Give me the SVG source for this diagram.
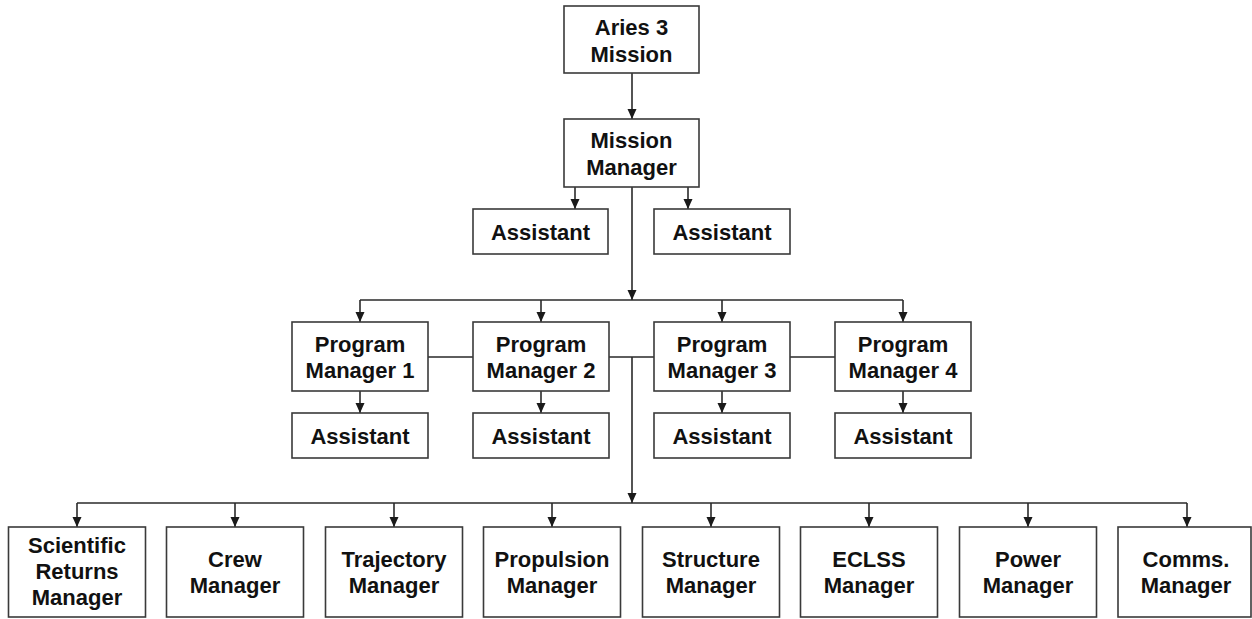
<svg xmlns="http://www.w3.org/2000/svg" width="1252" height="619" viewBox="0 0 1252 619">
  <style>
    .box { fill: #ffffff; stroke: #3a3a3a; stroke-width: 1.6; }
    .lbl { font-family: "Liberation Sans", Arial, sans-serif; font-weight: bold; font-size: 22px; fill: #111111; text-anchor: middle; }
    .wire { fill: none; stroke: #2a2a2a; stroke-width: 1.6; }
    .arr { marker-end: url(#head); }
  </style>
  <defs>
    <marker id="head" markerUnits="userSpaceOnUse" markerWidth="10" markerHeight="11" refX="10" refY="5" orient="auto">
      <path d="M0,0.5 L10,5 L0,9.5 z" fill="#1a1a1a"/>
    </marker>
  </defs>
  <rect width="1252" height="619" fill="#ffffff"/>

  <!-- connectors -->
  <g id="connectors">
    <path class="wire arr" d="M632,73 V119"/>
    <path class="wire arr" d="M575,187 V209"/>
    <path class="wire arr" d="M688,187 V209"/>
    <path class="wire arr" d="M632,187 V300"/>
    <path class="wire" d="M360,300 H903"/>
    <path class="wire arr" d="M360,300 V322"/>
    <path class="wire arr" d="M541,300 V322"/>
    <path class="wire arr" d="M722,300 V322"/>
    <path class="wire arr" d="M903,300 V322"/>
    <path class="wire" d="M428,357 H473 M609,357 H654 M790,357 H835"/>
    <path class="wire arr" d="M360,391 V413"/>
    <path class="wire arr" d="M541,391 V413"/>
    <path class="wire arr" d="M722,391 V413"/>
    <path class="wire arr" d="M903,391 V413"/>
    <path class="wire arr" d="M632,357 V503"/>
    <path class="wire" d="M77,503 H1187"/>
    <path class="wire arr" d="M77,503 V527"/>
    <path class="wire arr" d="M235,503 V527"/>
    <path class="wire arr" d="M394,503 V527"/>
    <path class="wire arr" d="M552,503 V527"/>
    <path class="wire arr" d="M711,503 V527"/>
    <path class="wire arr" d="M869,503 V527"/>
    <path class="wire arr" d="M1028,503 V527"/>
    <path class="wire arr" d="M1187,503 V527"/>
  </g>

  <!-- top levels -->
  <g id="aries">
    <rect class="box" x="564" y="6" width="135" height="67"/>
    <text class="lbl" x="631.5" y="35">Aries 3</text>
    <text class="lbl" x="631.5" y="62">Mission</text>
  </g>
  <g id="mission-manager">
    <rect class="box" x="564" y="119" width="135" height="68"/>
    <text class="lbl" x="631.5" y="148">Mission</text>
    <text class="lbl" x="631.5" y="175">Manager</text>
  </g>
  <g id="mm-assistant-left">
    <rect class="box" x="473" y="209" width="135" height="45"/>
    <text class="lbl" x="540.5" y="240">Assistant</text>
  </g>
  <g id="mm-assistant-right">
    <rect class="box" x="654" y="209" width="136" height="45"/>
    <text class="lbl" x="722" y="240">Assistant</text>
  </g>

  <!-- program managers -->
  <g id="pm1">
    <rect class="box" x="292" y="322" width="136" height="69"/>
    <text class="lbl" x="360" y="352">Program</text>
    <text class="lbl" x="360" y="378">Manager 1</text>
  </g>
  <g id="pm2">
    <rect class="box" x="473" y="322" width="136" height="69"/>
    <text class="lbl" x="541" y="352">Program</text>
    <text class="lbl" x="541" y="378">Manager 2</text>
  </g>
  <g id="pm3">
    <rect class="box" x="654" y="322" width="136" height="69"/>
    <text class="lbl" x="722" y="352">Program</text>
    <text class="lbl" x="722" y="378">Manager 3</text>
  </g>
  <g id="pm4">
    <rect class="box" x="835" y="322" width="136" height="69"/>
    <text class="lbl" x="903" y="352">Program</text>
    <text class="lbl" x="903" y="378">Manager 4</text>
  </g>
  <g id="pm1-assistant">
    <rect class="box" x="292" y="413" width="136" height="45"/>
    <text class="lbl" x="360" y="444">Assistant</text>
  </g>
  <g id="pm2-assistant">
    <rect class="box" x="473" y="413" width="136" height="45"/>
    <text class="lbl" x="541" y="444">Assistant</text>
  </g>
  <g id="pm3-assistant">
    <rect class="box" x="654" y="413" width="136" height="45"/>
    <text class="lbl" x="722" y="444">Assistant</text>
  </g>
  <g id="pm4-assistant">
    <rect class="box" x="835" y="413" width="136" height="45"/>
    <text class="lbl" x="903" y="444">Assistant</text>
  </g>

  <!-- subsystem managers -->
  <g id="scientific-returns">
    <rect class="box" x="8.5" y="527" width="137" height="90"/>
    <text class="lbl" x="77" y="553">Scientific</text>
    <text class="lbl" x="77" y="579">Returns</text>
    <text class="lbl" x="77" y="605">Manager</text>
  </g>
  <g id="crew">
    <rect class="box" x="166.5" y="527" width="137" height="90"/>
    <text class="lbl" x="235" y="567">Crew</text>
    <text class="lbl" x="235" y="593">Manager</text>
  </g>
  <g id="trajectory">
    <rect class="box" x="325.5" y="527" width="137" height="90"/>
    <text class="lbl" x="394" y="567">Trajectory</text>
    <text class="lbl" x="394" y="593">Manager</text>
  </g>
  <g id="propulsion">
    <rect class="box" x="483.5" y="527" width="137" height="90"/>
    <text class="lbl" x="552" y="567">Propulsion</text>
    <text class="lbl" x="552" y="593">Manager</text>
  </g>
  <g id="structure">
    <rect class="box" x="642.5" y="527" width="137" height="90"/>
    <text class="lbl" x="711" y="567">Structure</text>
    <text class="lbl" x="711" y="593">Manager</text>
  </g>
  <g id="eclss">
    <rect class="box" x="800.5" y="527" width="137" height="90"/>
    <text class="lbl" x="869" y="567">ECLSS</text>
    <text class="lbl" x="869" y="593">Manager</text>
  </g>
  <g id="power">
    <rect class="box" x="959.5" y="527" width="137" height="90"/>
    <text class="lbl" x="1028" y="567">Power</text>
    <text class="lbl" x="1028" y="593">Manager</text>
  </g>
  <g id="comms">
    <rect class="box" x="1118" y="527" width="133" height="90"/>
    <text class="lbl" x="1186" y="567">Comms.</text>
    <text class="lbl" x="1186" y="593">Manager</text>
  </g>
</svg>
